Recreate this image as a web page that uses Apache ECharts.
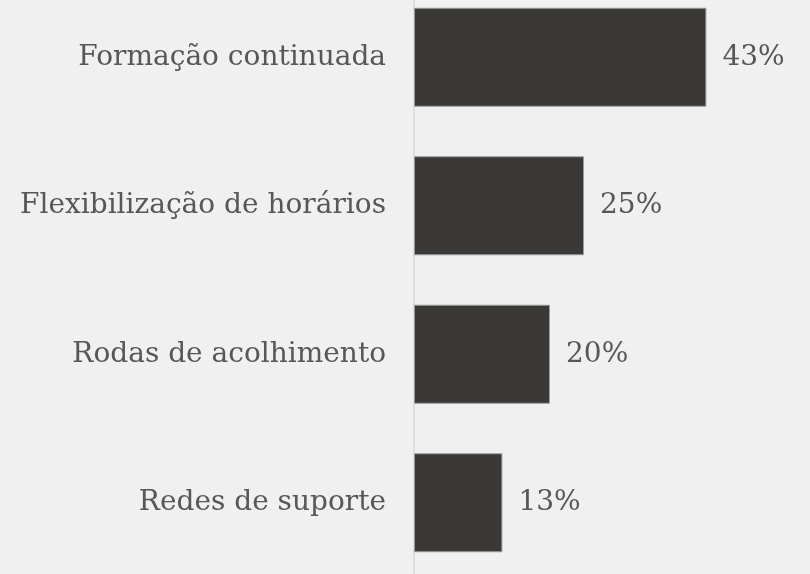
<!DOCTYPE html>
<html>
<head>
<meta charset="utf-8">
<script src="https://cdn.jsdelivr.net/npm/echarts@6/dist/echarts.min.js"></script>
<style>
    html, body { margin: 0; padding: 0; background: #f0f0f0; }
    #chart { width: 810px; height: 574px; }
</style>
</head>
<body>
<div id="chart"></div>
<script>
// categories, top to bottom
const categories = ['Formação continuada', 'Flexibilização de horários', 'Rodas de acolhimento', 'Redes de suporte'];
// share of answers, %
const values = [43, 25, 20, 13];

const FONT = '"DejaVu Serif", Georgia, serif';
const TEXT_COLOR = '#575757';

const chart = echarts.init(document.getElementById('chart'));

chart.setOption({
    backgroundColor: '#f0f0f0',
    animation: false,
    grid: {
        left: 414,
        right: 56,
        top: -17,
        bottom: -3,
        outerBoundsMode: 'none', // let the bands run past the canvas edge
        containLabel: false
    },
    xAxis: {
        type: 'value',
        min: 0,
        max: 50,
        show: false
    },
    yAxis: {
        type: 'category',
        data: categories,
        inverse: true,
        axisTick: { show: false },
        axisLine: {
            show: true,
            lineStyle: { color: '#d9d9d9', width: 1.5 }
        },
        axisLabel: {
            margin: 28,
            color: TEXT_COLOR,
            fontFamily: FONT,
            fontSize: 28
        },
        splitLine: { show: false }
    },
    series: [
        {
            type: 'bar',
            data: values,
            barWidth: 99,
            itemStyle: {
                color: '#3a3937',
                borderColor: '#9c9c9a',
                borderWidth: 1
            },
            label: {
                show: true,
                position: 'right',
                distance: 16,
                formatter: '{c}%',
                color: TEXT_COLOR,
                fontFamily: FONT,
                fontSize: 28
            }
        }
    ]
});
</script>
</body>
</html>
